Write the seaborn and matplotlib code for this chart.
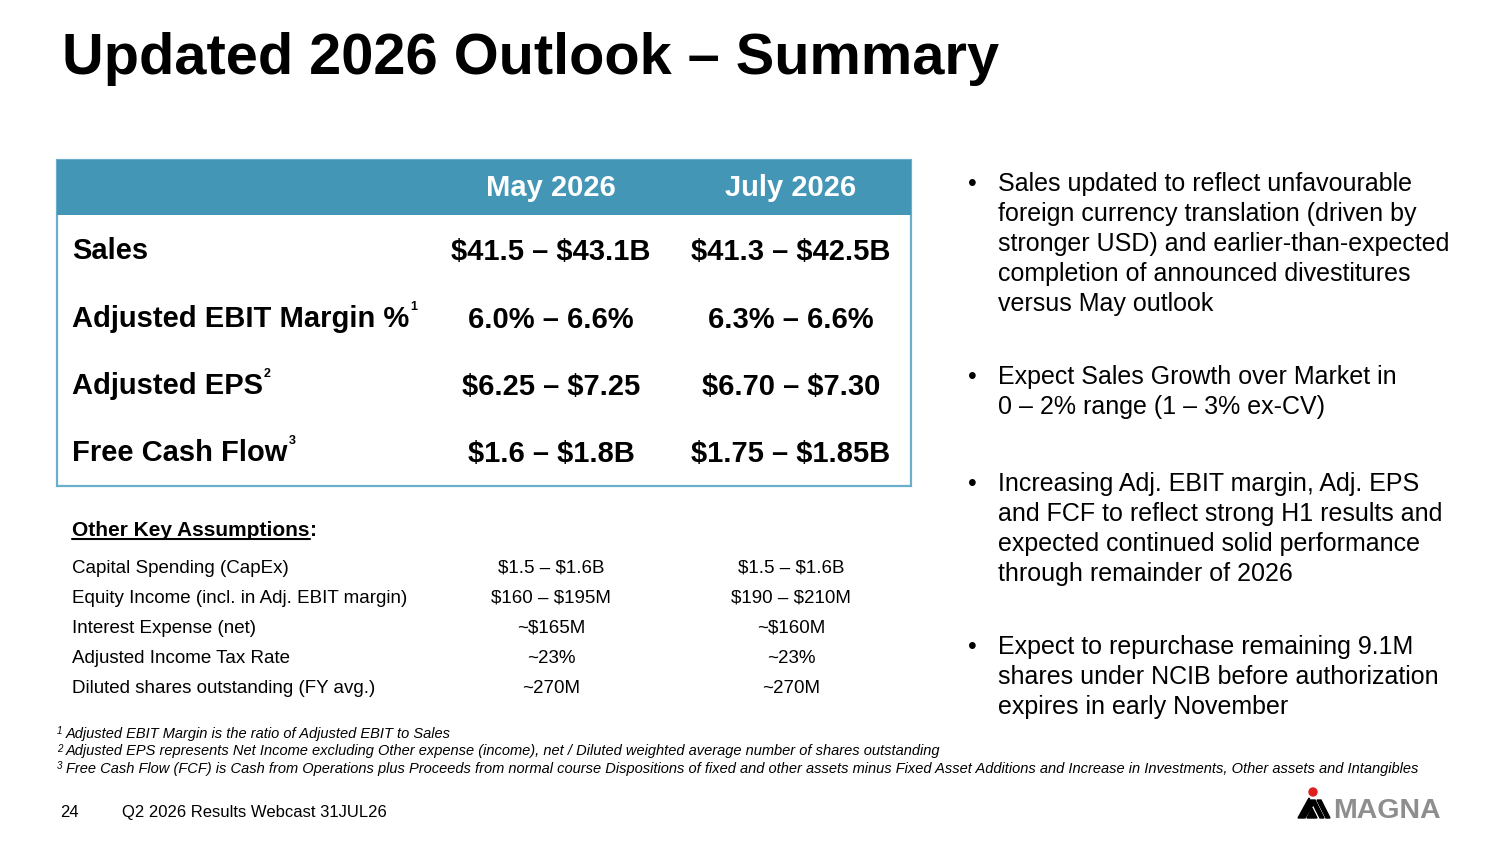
import matplotlib
matplotlib.use("Agg")
import matplotlib.pyplot as plt
import seaborn as sns
from matplotlib.patches import Rectangle, Polygon, Circle

sns.set_theme(style="white")
plt.rcParams['font.family'] = ['Liberation Sans', 'DejaVu Sans']
plt.rcParams['text.parse_math'] = False

title = "Updated 2026 Outlook \u2013 Summary"
periods = ["May 2026", "July 2026"]

metrics = ["Sales", "Adjusted EBIT Margin %", "Adjusted EPS", "Free Cash Flow"]
metric_notes = ["", "1", "2", "3"]
may_vals = ["$41.5 \u2013 $43.1B", "6.0% \u2013 6.6%", "$6.25 \u2013 $7.25", "$1.6 \u2013 $1.8B"]
july_vals = ["$41.3 \u2013 $42.5B", "6.3% \u2013 6.6%", "$6.70 \u2013 $7.30", "$1.75 \u2013 $1.85B"]

assumptions = ["Capital Spending (CapEx)", "Equity Income (incl. in Adj. EBIT margin)",
               "Interest Expense (net)", "Adjusted Income Tax Rate",
               "Diluted shares outstanding (FY avg.)"]
may_assump = ["$1.5 \u2013 $1.6B", "$160 \u2013 $195M", "~$165M", "~23%", "~270M"]
july_assump = ["$1.5 \u2013 $1.6B", "$190 \u2013 $210M", "~$160M", "~23%", "~270M"]

bullets = [
    ["Sales updated to reflect unfavourable", "foreign currency translation (driven by",
     "stronger USD) and earlier-than-expected", "completion of announced divestitures",
     "versus May outlook"],
    ["Expect Sales Growth over Market in", "0 \u2013 2% range (1 \u2013 3% ex-CV)"],
    ["Increasing Adj. EBIT margin, Adj. EPS", "and FCF to reflect strong H1 results and",
     "expected continued solid performance", "through remainder of 2026"],
    ["Expect to repurchase remaining 9.1M", "shares under NCIB before authorization",
     "expires in early November"],
]

footnotes = [
    "Adjusted EBIT Margin is the ratio of Adjusted EBIT to Sales",
    "Adjusted EPS represents Net Income excluding Other expense (income), net / Diluted weighted average number of shares outstanding",
    "Free Cash Flow (FCF) is Cash from Operations plus Proceeds from normal course Dispositions of fixed and other assets minus Fixed Asset Additions and Increase in Investments, Other assets and Intangibles",
]
page_no = "24"
footer = "Q2 2026 Results Webcast 31JUL26"

header_blue = "#4396B6"
border_blue = "#6AAECB"

fig = plt.figure(figsize=(15, 8.44), dpi=100)
ax = fig.add_axes([0, 0, 1, 1])
ax.set_xlim(0, 1500)
ax.set_ylim(844, 0)
ax.axis("off")

ax.text(62, 74, title, fontsize=41.6, fontweight="bold", color="black", va="baseline")

# table frame
ax.add_patch(Rectangle((57, 160), 854, 326, facecolor="white", edgecolor=border_blue, lw=1.6))
ax.add_patch(Rectangle((57, 160), 854, 55, facecolor=header_blue, edgecolor="none"))
col_x = [551, 791]
for cx, p in zip(col_x, periods):
    ax.text(cx, 196, p, fontsize=21, fontweight="bold", color="white", ha="center", va="baseline")

fig.canvas.draw()
renderer = fig.canvas.get_renderer()
row_y = [259, 327, 394, 461]
for y, m, n, a, b in zip(row_y, metrics, metric_notes, may_vals, july_vals):
    t = ax.text(72, y, m, fontsize=21, fontweight="bold", color="black", va="baseline")
    if n:
        bb = t.get_window_extent(renderer)
        ax.text(bb.x1 + 1, y - 17, n, fontsize=9, fontweight="bold", color="black", va="baseline")
    ax.text(col_x[0], y + 1, a, fontsize=21, fontweight="bold", color="black", ha="center", va="baseline")
    ax.text(col_x[1], y + 1, b, fontsize=21, fontweight="bold", color="black", ha="center", va="baseline")

# other key assumptions
t = ax.text(72, 536, "Other Key Assumptions", fontsize=15, fontweight="bold", color="black", va="baseline")
bb = t.get_window_extent(renderer)
ax.plot([72, bb.x1], [539, 539], color="black", lw=1.5)
ax.text(bb.x1, 536, ":", fontsize=15, fontweight="bold", color="black", va="baseline")
for i, (lab, a, b) in enumerate(zip(assumptions, may_assump, july_assump)):
    y = 573 + 30 * i
    ax.text(72, y, lab, fontsize=13.5, color="black", va="baseline")
    ax.text(col_x[0], y, a, fontsize=13.5, color="black", ha="center", va="baseline")
    ax.text(col_x[1], y, b, fontsize=13.5, color="black", ha="center", va="baseline")

# bullets
block_y = [191, 384, 491, 654]
for y0, lines in zip(block_y, bullets):
    ax.text(968, y0, "\u2022", fontsize=18, color="black", va="baseline")
    for j, line in enumerate(lines):
        ax.text(998, y0 + 30 * j, line, fontsize=18, color="black", va="baseline")

# footnotes
for i, note in enumerate(footnotes):
    y = 738 + 17.5 * i
    ax.text(57, y - 4, str(i + 1), fontsize=7, style="italic", color="black", va="baseline")
    ax.text(66, y, note, fontsize=10.5, style="italic", color="black", va="baseline")

ax.text(60, 817, page_no, fontsize=12, color="black", va="baseline")
ax.text(122, 817, footer, fontsize=12, color="black", va="baseline")

# logo
ax.add_patch(Polygon([(1298, 818), (1309, 798), (1313, 805), (1305, 818)], color="black"))
ax.add_patch(Polygon([(1307, 818), (1312, 808), (1317, 818)], color="black"))
ax.add_patch(Polygon([(1311, 800), (1315, 800), (1324, 818), (1320, 818)], color="black"))
ax.add_patch(Polygon([(1317, 800), (1321, 800), (1330, 818), (1326, 818)], color="black"))
ax.add_patch(Circle((1313, 792), 4, color="#E02020"))
ax.text(1333, 818, "MAGNA", fontsize=20.5, fontweight="heavy", color="#8E8E8E", va="baseline")

fig.savefig("out.png", dpi=100)
